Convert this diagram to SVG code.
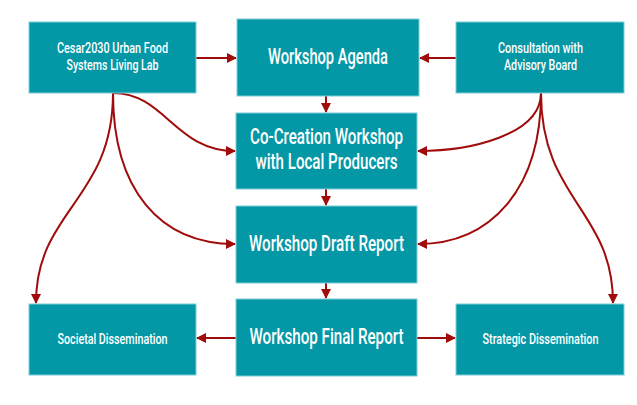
<svg xmlns="http://www.w3.org/2000/svg" width="637" height="405" viewBox="0 0 637 405">
<defs>
<marker id="ah" viewBox="0 0 10 10" refX="9" refY="5" markerWidth="11" markerHeight="10" markerUnits="userSpaceOnUse" orient="auto">
<path d="M0,0 L10,5 L0,10 z" fill="#a00c0c"/>
</marker>
<style>
.box{fill:#0497a6;stroke:#7fcdd5;stroke-width:1}
.t{fill:#ffffff;font-family:Roboto,"Liberation Sans",sans-serif;font-weight:500;text-anchor:middle}
.big{font-size:22px}
.sm{font-size:15px}
.xs{font-size:14.5px}
.c{fill:none;stroke:#a00c0c;stroke-width:2;marker-end:url(#ah)}
</style>
</defs>
<rect width="637" height="405" fill="#ffffff"/>
<g id="connectors">
<path class="c" d="M196,58 L236,58"/>
<path class="c" d="M456,58 L420,58"/>
<path class="c" d="M326,96 L326,112"/>
<path class="c" d="M326,189 L326,205"/>
<path class="c" d="M326,283 L326,298"/>
<path class="c" d="M236,338 L197,338"/>
<path class="c" d="M417,338 L455,338"/>
<path class="c" d="M113,93 C165,93 175,151 235,151"/>
<path class="c" d="M113,93 C113,190 160,244 235,244"/>
<path class="c" d="M113,93 C113,200 36,210 36,303"/>
<path class="c" d="M541,93 C541,135 470,151 418,151"/>
<path class="c" d="M541,93 C541,190 490,244 418,244"/>
<path class="c" d="M541,93 C541,200 613,210 613,303"/>
</g>
<g id="cesar">
<rect class="box" x="29" y="22" width="167" height="71"/>
<text class="t sm" x="112.5" y="53" textLength="111" lengthAdjust="spacingAndGlyphs">Cesar2030 Urban Food</text>
<text class="t sm" x="112.5" y="70" textLength="92" lengthAdjust="spacingAndGlyphs">Systems Living Lab</text>
</g>
<g id="agenda">
<rect class="box" x="237" y="19" width="182" height="77"/>
<text class="t big" x="328" y="64" textLength="120" lengthAdjust="spacingAndGlyphs">Workshop Agenda</text>
</g>
<g id="consultation">
<rect class="box" x="456" y="22" width="168" height="71"/>
<text class="t sm" x="540.5" y="53" textLength="85" lengthAdjust="spacingAndGlyphs">Consultation with</text>
<text class="t sm" x="540.5" y="70" textLength="73" lengthAdjust="spacingAndGlyphs">Advisory Board</text>
</g>
<g id="cocreation">
<rect class="box" x="236" y="113" width="181" height="76"/>
<text class="t big" x="326.5" y="144" textLength="153" lengthAdjust="spacingAndGlyphs">Co-Creation Workshop</text>
<text class="t big" x="326.5" y="169" textLength="142" lengthAdjust="spacingAndGlyphs">with Local Producers</text>
</g>
<g id="draft">
<rect class="box" x="236" y="206" width="181" height="77"/>
<text class="t big" x="326.5" y="251" textLength="155" lengthAdjust="spacingAndGlyphs">Workshop Draft Report</text>
</g>
<g id="final">
<rect class="box" x="236" y="299" width="181" height="77"/>
<text class="t big" x="326.5" y="344" textLength="154" lengthAdjust="spacingAndGlyphs">Workshop Final Report</text>
</g>
<g id="societal">
<rect class="box" x="29" y="304" width="167" height="71"/>
<text class="t xs" x="112.5" y="344" textLength="110" lengthAdjust="spacingAndGlyphs">Societal Dissemination</text>
</g>
<g id="strategic">
<rect class="box" x="456" y="304" width="168" height="71"/>
<text class="t xs" x="540.5" y="344" textLength="116" lengthAdjust="spacingAndGlyphs">Strategic Dissemination</text>
</g>
</svg>
